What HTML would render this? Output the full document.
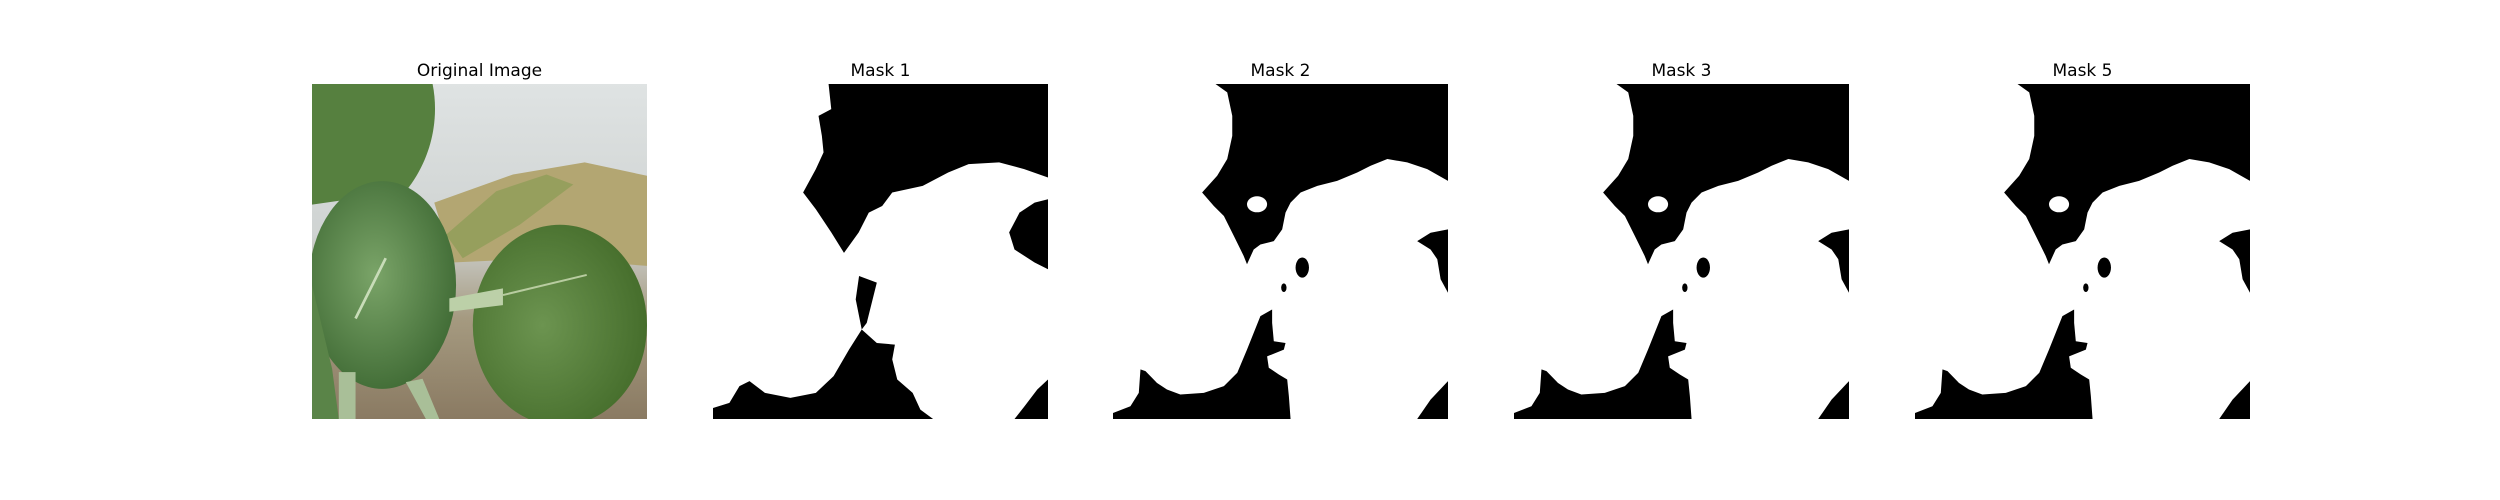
<!DOCTYPE html>
<html><head><meta charset="utf-8"><style>
html,body{margin:0;padding:0;background:#fff;}
#fig{position:relative;width:2500px;height:500px;overflow:hidden;background:#fff;font-family:"DejaVu Sans","Liberation Sans",sans-serif;}
.title{position:absolute;top:61px;width:335px;text-align:center;font-size:17px;color:#000;line-height:20px;}
.panel{position:absolute;top:84px;width:335px;height:335px;}
</style></head><body>
<div id="fig">
<div class="title" style="left:312px">Original Image</div>
<div class="title" style="left:713px">Mask 1</div>
<div class="title" style="left:1113px">Mask 2</div>
<div class="title" style="left:1514px">Mask 3</div>
<div class="title" style="left:1915px">Mask 5</div>

<svg class="panel" style="left:312px" viewBox="0 0 100 100" preserveAspectRatio="none">
<defs>
<linearGradient id="bg" x1="0" y1="0" x2="0" y2="1"><stop offset="0" stop-color="#dfe3e3"/><stop offset="0.45" stop-color="#cfd3d2"/><stop offset="0.7" stop-color="#a59a80"/><stop offset="1" stop-color="#8a7a62"/></linearGradient>
<radialGradient id="lf1" cx="0.45" cy="0.45" r="0.6"><stop offset="0" stop-color="#7aa468"/><stop offset="1" stop-color="#3f6a34"/></radialGradient>
<radialGradient id="lf2" cx="0.4" cy="0.5" r="0.6"><stop offset="0" stop-color="#6c9450"/><stop offset="1" stop-color="#466e2c"/></radialGradient>
</defs>
<rect width="100" height="100" fill="url(#bg)"/>
<polygon points="36.5,35.4 60,27 81.4,23.4 100,27.4 100,54.3 70,52 41.9,53.3" fill="#b3a672"/>
<polygon points="40,45 55,32 70,27 78,30 62,42 45,52" fill="#8f9e58" opacity="0.8"/>
<path d="M0,0 L36,0 C38,10 36,22 28,32 L0,36 Z" fill="#56803f"/>
<ellipse cx="21" cy="60" rx="22" ry="31" fill="url(#lf1)"/>
<ellipse cx="74" cy="72" rx="26" ry="30" fill="url(#lf2)"/>
<polygon points="0,60 0,100 8,100 6,85" fill="#5a8448"/>
<rect x="8" y="86" width="5" height="14" fill="#a9bf98"/>
<polygon points="28,89 34,100 38,100 33,88" fill="#a9bf98"/>
<polygon points="41,64 57,61 57,66 41,68" fill="#bcd0a8"/>
<line x1="13" y1="70" x2="22" y2="52" stroke="#c8dcb8" stroke-width="0.8"/>
<line x1="57" y1="63" x2="82" y2="57" stroke="#b8cca0" stroke-width="0.6"/>
</svg>

<svg class="panel" style="left:713px" viewBox="0 0 100 100" preserveAspectRatio="none">
<rect width="100" height="100" fill="#fff"/>
<polygon fill="#000" points="34.5,0 35.3,7.5 31.5,9.5 32.5,15.5 33,20.4 30.7,25.4 26.9,32.4 30.7,37.4 35.3,44.3 39.1,50.4 43.5,44.3 46.5,38.4 50.5,36.4 53.5,32.4 62.6,30.4 70.2,26.4 76.3,23.9 85.4,23.4 92.9,25.4 100,27.9 100,0"/>
<polygon fill="#000" points="100,34.4 96,35.4 91.5,38.4 88.4,44.3 90,49.4 96,53.3 100,55.3"/>
<polygon fill="#000" points="43.6,57.3 48.9,59.3 45.9,71.3 44.4,73.3 42.6,64.3"/>
<polygon fill="#000" points="0,100 0,96.7 4.9,95.2 7.9,90.2 10.9,88.7 15.5,92.2 23.1,93.7 30.7,92.2 36,87.2 40.6,79.3 44.4,73.3 48.9,77.3 54.3,77.8 53.5,82.2 55,88.2 59.6,92.2 61.9,97.2 65.7,100"/>
<polygon fill="#000" points="90,100 93,96.2 96.8,91.2 100,88.2 100,100"/>
</svg>

<svg width="0" height="0" style="position:absolute">
<defs>
<g id="maskB">
<rect width="100" height="100" fill="#fff"/>
<polygon fill="#000" points="30.6,0 34.1,2.5 35.6,9.5 35.6,15.5 34.1,22.4 31.1,27.4 26.6,32.4 30.1,36.4 33.1,39.4 36.1,45.4 39,51.3 40,53.8 42,49.4 44,47.9 48,46.9 50.5,43.4 51.5,38.4 53,35.4 56,32.4 61,30.4 66.9,28.9 72.9,26.4 76.9,24.4 81.9,22.4 87.8,23.4 93.8,25.4 100,28.9 100,0"/>
<ellipse cx="43" cy="35.9" rx="3" ry="2.4" fill="#fff"/>
<polygon fill="#000" points="90.8,46.9 94.8,44.4 100,43.4 100,62.3 97.8,58.3 96.8,52.3 94.8,49.4"/>
<ellipse cx="56.5" cy="54.8" rx="2" ry="3" fill="#000"/>
<ellipse cx="51" cy="60.8" rx="0.8" ry="1.3" fill="#000"/>
<polygon fill="#000" points="0,100 0,98.2 5.2,96.2 7.7,92.2 8.2,85.2 9.7,85.7 13.1,89.2 16.1,91.2 20.1,92.7 27.1,92.2 33.1,90.2 37.1,86.2 40,79.3 42,74.3 44,69.3 47.5,67.3 47.5,71.3 48,76.8 51.5,77.3 51,79.3 46,81.3 46.5,84.7 49.5,86.7 52,88.2 52.5,93.2 53,100"/>
<polygon fill="#000" points="90.8,100 94.8,94.2 100,88.7 100,100"/>
</g>
</defs>
</svg>
<svg class="panel" style="left:1113px" viewBox="0 0 100 100" preserveAspectRatio="none"><use href="#maskB"/></svg>
<svg class="panel" style="left:1514px" viewBox="0 0 100 100" preserveAspectRatio="none"><use href="#maskB"/></svg>
<svg class="panel" style="left:1915px" viewBox="0 0 100 100" preserveAspectRatio="none"><use href="#maskB"/></svg>
</div>
</body></html>
